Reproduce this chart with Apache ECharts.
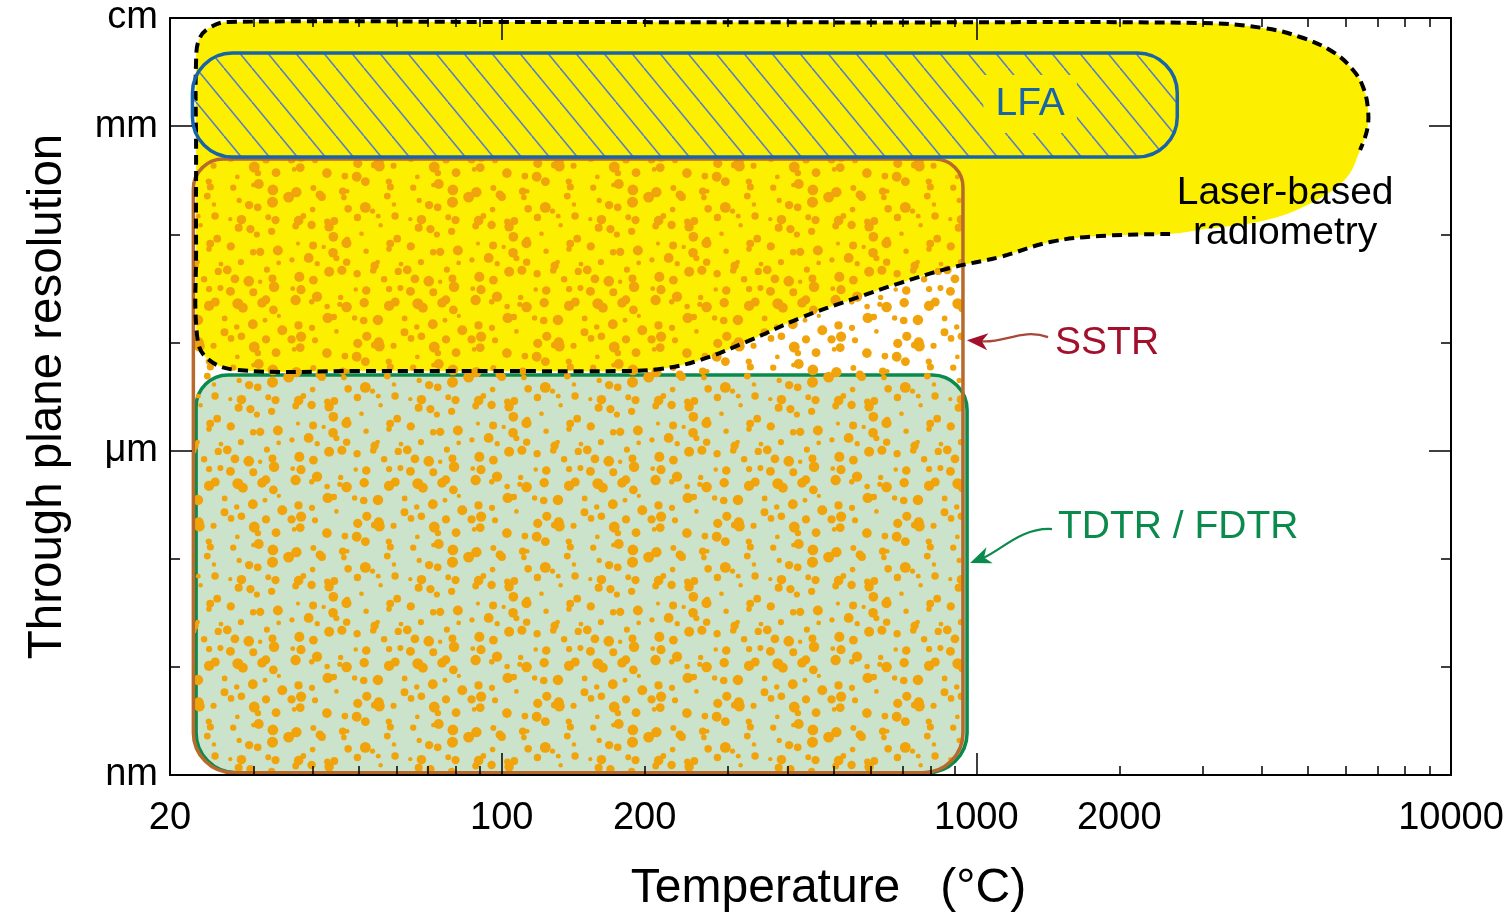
<!DOCTYPE html>
<html>
<head>
<meta charset="utf-8">
<script src="https://cdn.jsdelivr.net/npm/echarts@6/dist/echarts.min.js"></script>
<style>
html, body { margin: 0; padding: 0; background: #fff; }
#chart { width: 1508px; height: 913px; }
</style>
</head>
<body>
<div id="chart"></div>
<script>
// temperature in °C, resolution in µm
const tempLabels = [20, 100, 200, 1000, 2000, 10000];
const tempMajorTicks = [100, 1000];
const tempMinorTicks = [30, 40, 50, 60, 70, 80, 90, 200, 300, 400, 500, 600, 700, 800, 900,
  2000, 3000, 4000, 5000, 6000, 7000, 8000, 9000];
const sizeLabels = [0.001, 1, 1000, 10000];
const sizeLabelText = ['nm', 'μm', 'mm', 'cm'];
const sizeMajorTicks = [1, 1000];
const sizeMinorTicks = [0.01, 0.1, 10, 100];

// technique boxes [min, max]
const lfaTemp = [22.3, 2650];
const lfaSize = [518, 4750];
const sstrTemp = [22.4, 937];
const sstrSize = [0.00105, 497];
const tdtrTemp = [22.7, 956];
const tdtrSize = [0.00105, 5.0];

// laser-based radiometry outline (first radioDashed points carry the dashed border)
const radioTemp = [2559, 1822, 1430, 1121, 880, 690, 542, 425, 334, 262, 215.5, 177.6, 100, 50,
  27.7, 23.9, 22.8, 22.7, 22.7, 22.7, 23.1, 24.4, 26.5, 100, 600, 2960, 4018, 4809, 5642, 6217,
  6527, 6687, 6655, 6433,
  6040, 5221, 4097, 2960];
const radioSize = [100.6, 96.4, 84.8, 61.7, 48.8, 35.4, 24.7, 16.8, 10.5, 6.88, 5.68, 5.44, 5.44, 5.44,
  5.56, 7.17, 11.7, 71.6, 602, 4089, 6532, 8256, 9183, 9183, 9100, 8992, 8081, 6673, 4849, 3304,
  2301, 1410, 921, 602,
  339, 208, 136, 110];
const radioDashed = 34;

// labels and arrows
const noteText = ['LFA', 'Laser-based\nradiometry', 'SSTR', 'TDTR / FDTR'];
const noteTemp = [1298, 4472, 1465, 1486];
const noteSize = [1600, 157, 9.88, 0.196];
const sstrArrowTemp = [1416, 955];
const sstrArrowSize = [11.2, 10.5];
const tdtrArrowTemp = [1443, 970];
const tdtrArrowSize = [0.188, 0.0912];

const lg = Math.log10;
const FONT = '"Liberation Sans", Arial, sans-serif';

// fill textures
function dotTile() {
  const cell = 15, cells = 12, n = cell * cells;
  const c = document.createElement('canvas');
  c.width = n; c.height = n;
  const ctx = c.getContext('2d');
  ctx.fillStyle = '#f0a30a';
  let s = 0x9e3779b9;
  const next = () => {
    s |= 0; s = s + 0x6d2b79f5 | 0;
    let t = Math.imul(s ^ s >>> 15, 1 | s);
    t = t + Math.imul(t ^ t >>> 7, 61 | t) ^ t;
    return ((t ^ t >>> 14) >>> 0) / 4294967296;
  };
  for (let gy = 0; gy < cells; gy++) for (let gx = 0; gx < cells; gx++) {
    const x = (gx + next()) * cell, y = (gy + next()) * cell;
    const r = 2.1 + 3.4 * next();
    for (const dx of [-n, 0, n]) for (const dy of [-n, 0, n]) {
      ctx.beginPath();
      ctx.arc(x + dx, y + dy, r, 0, Math.PI * 2);
      ctx.fill();
    }
  }
  return c;
}
function hatchTile() {
  const w = 28, h = 34;
  const c = document.createElement('canvas');
  c.width = w; c.height = h;
  const ctx = c.getContext('2d');
  ctx.strokeStyle = '#5a7ec4';
  ctx.lineWidth = 1.6;
  for (const ox of [-w, 0, w]) {
    ctx.beginPath();
    ctx.moveTo(ox, 0);
    ctx.lineTo(ox + w, h);
    ctx.stroke();
  }
  return c;
}
const dots = { image: dotTile(), repeat: 'repeat' };
const hatch = { image: hatchTile(), repeat: 'repeat' };

function boxSeries(temp, size, r, style) {
  return {
    type: 'custom',
    silent: true,
    data: [[lg(temp[0]), lg(size[0]), lg(temp[1]), lg(size[1])]],
    renderItem: function (params, api) {
      const p0 = api.coord([api.value(0), api.value(3)]);
      const p1 = api.coord([api.value(2), api.value(1)]);
      return {
        type: 'rect',
        shape: { x: p0[0], y: p0[1], width: p1[0] - p0[0], height: p1[1] - p0[1], r: r },
        style: style
      };
    }
  };
}

function radioSeries(closed, style) {
  return {
    type: 'custom',
    silent: true,
    data: [0],
    renderItem: function (params, api) {
      let pts = radioTemp.map((t, i) => api.coord([lg(t), lg(radioSize[i])]));
      if (!closed) pts = pts.slice(0, radioDashed);
      return {
        type: closed ? 'polygon' : 'polyline',
        shape: { points: pts, smooth: 0.4 },
        style: style
      };
    }
  };
}

function arrow(api, temps, sizes, bend, headColor, lineColor) {
  const a = api.coord([lg(temps[0]), lg(sizes[0])]);
  const b = api.coord([lg(temps[1]), lg(sizes[1])]);
  const c1 = [a[0] + bend[0], a[1] + bend[1]];
  const c2 = [b[0] + bend[2], b[1] + bend[3]];
  const dx = b[0] - c2[0], dy = b[1] - c2[1], len = Math.hypot(dx, dy);
  const ux = dx / len, uy = dy / len, nx = -uy, ny = ux;
  const L = 21, W = 8.5, N = 6;
  const notch = [b[0] - (L - N) * ux, b[1] - (L - N) * uy];
  return [
    {
      type: 'bezierCurve',
      shape: { x1: a[0], y1: a[1], x2: notch[0], y2: notch[1], cpx1: c1[0], cpy1: c1[1], cpx2: c2[0], cpy2: c2[1] },
      style: { stroke: lineColor, lineWidth: 2.2, fill: 'none' }
    },
    {
      type: 'polygon',
      shape: { points: [b, [b[0] - L * ux + W * nx, b[1] - L * uy + W * ny], notch,
        [b[0] - L * ux - W * nx, b[1] - L * uy - W * ny]] },
      style: { fill: headColor }
    }
  ];
}

const noteColor = ['#1764ab', '#000', '#a3102c', '#0b8a4e'];
const noteAlign = ['center', 'center', 'left', 'left'];

const notes = {
  type: 'custom',
  silent: true,
  data: noteText.map((t, i) => [lg(noteTemp[i]), lg(noteSize[i])]),
  renderItem: function (params, api) {
    const i = params.dataIndex;
    const p = api.coord([api.value(0), api.value(1)]);
    const children = [{
      type: 'text',
      x: p[0], y: p[1],
      style: {
        text: noteText[i], fill: noteColor[i], font: '39px ' + FONT,
        align: noteAlign[i], verticalAlign: 'middle', lineHeight: 40,
        backgroundColor: i === 0 ? '#fcf000' : null, padding: i === 0 ? [9, 12] : 0
      }
    }];
    if (i === 2) children.push(...arrow(api, sstrArrowTemp, sstrArrowSize, [-26, -9, 38, 3], '#a3102c', '#a8483a'));
    if (i === 3) children.push(...arrow(api, tdtrArrowTemp, tdtrArrowSize, [-30, -2, 30, -12], '#0b8a4e', '#0b8a4e'));
    return { type: 'group', children: children };
  }
};

function xAxis(pos, ticks, len, withLine, withLabel) {
  return {
    type: 'value', position: pos, min: lg(20), max: 4, z: 10,
    splitLine: { show: false },
    axisLine: { show: withLine, onZero: false, lineStyle: { color: '#000', width: 2 } },
    axisTick: { show: true, inside: true, length: len, customValues: ticks.map(lg), lineStyle: { color: '#000', width: 1.5 } },
    axisLabel: withLabel ? {
      show: true, customValues: tempLabels.map(lg), margin: 25,
      formatter: v => String(Math.round(Math.pow(10, v))),
      color: '#000', fontSize: 38, fontFamily: FONT
    } : { show: false },
    name: withLabel ? 'Temperature   (°C)' : '',
    nameLocation: 'middle', nameGap: 90,
    nameTextStyle: { color: '#000', fontSize: 48, fontFamily: FONT, padding: [0, 0, 0, 36] }
  };
}
function yAxis(pos, ticks, len, withLine, withLabel) {
  return {
    type: 'value', position: pos, min: -3, max: 4, z: 10,
    splitLine: { show: false },
    axisLine: { show: withLine, onZero: false, lineStyle: { color: '#000', width: 2 } },
    axisTick: { show: true, inside: true, length: len, customValues: ticks.map(lg), lineStyle: { color: '#000', width: 1.5 } },
    axisLabel: withLabel ? {
      show: true, customValues: sizeLabels.map(lg), margin: 12,
      formatter: v => sizeLabelText[sizeLabels.findIndex(s => Math.abs(lg(s) - v) < 1e-6)],
      color: '#000', fontSize: 38, fontFamily: FONT
    } : { show: false },
    name: withLabel ? 'Through plane resolution' : '',
    nameLocation: 'middle', nameGap: 98,
    nameTextStyle: { color: '#000', fontSize: 47.5, fontFamily: FONT }
  };
}

const chart = echarts.init(document.getElementById('chart'), null, { renderer: 'canvas' });
chart.setOption({
  backgroundColor: '#fff',
  animation: false,
  grid: { left: 170, right: 57, top: 18, bottom: 138, containLabel: false, outerBoundsMode: 'none' },
  xAxis: [
    xAxis('bottom', tempMajorTicks, 22, true, true),
    xAxis('bottom', tempMinorTicks, 9, false, false),
    xAxis('top', tempMajorTicks, 22, true, false),
    xAxis('top', tempMinorTicks, 9, false, false)
  ],
  yAxis: [
    yAxis('left', sizeMajorTicks, 22, true, true),
    yAxis('left', sizeMinorTicks, 10, false, false),
    yAxis('right', sizeMajorTicks, 22, true, false),
    yAxis('right', sizeMinorTicks, 10, false, false)
  ],
  series: [
    radioSeries(true, { fill: '#fcf000' }),
    boxSeries(tdtrTemp, tdtrSize, [32, 35, 40, 40], { fill: '#cbe3cb' }),
    boxSeries(tdtrTemp, tdtrSize, [32, 35, 40, 40], { fill: 'none', stroke: '#0b8a4e', lineWidth: 3.5 }),
    boxSeries(sstrTemp, sstrSize, [30, 28, 40, 40], { fill: dots, stroke: '#b8692c', lineWidth: 3.5 }),
    radioSeries(false, { fill: 'none', stroke: '#000', lineWidth: 4, lineDash: [10, 6] }),
    boxSeries(lfaTemp, lfaSize, 40, { fill: hatch, stroke: '#1764ab', lineWidth: 3.5 }),
    notes
  ]
});
</script>
</body>
</html>
